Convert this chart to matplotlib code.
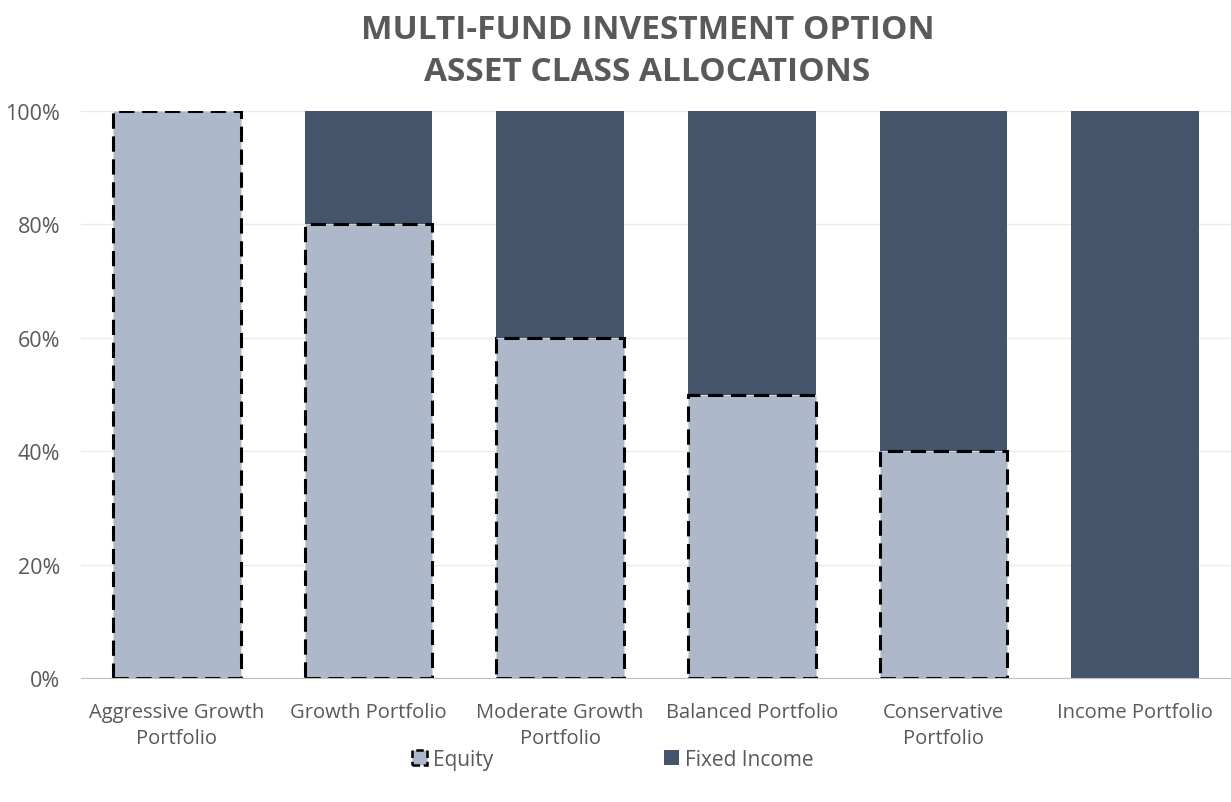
import numpy as np
import matplotlib
matplotlib.use("Agg")
import matplotlib.pyplot as plt
from matplotlib.ticker import PercentFormatter
from matplotlib.patches import Patch

categories = ["Aggressive Growth\nPortfolio", "Growth Portfolio", "Moderate Growth\nPortfolio",
              "Balanced Portfolio", "Conservative\nPortfolio", "Income Portfolio"]
equity = [100, 80, 60, 50, 40, 0]
fixed_income = [0, 20, 40, 50, 60, 100]

EQ_COLOR = "#ADB9CA"
FI_COLOR = "#44546A"
DASH = (0, (5, 2.5))

plt.rcParams["font.family"] = ["Open Sans", "DejaVu Sans"]

fig = plt.figure(figsize=(12.31, 8.03), dpi=100)
ax = fig.add_axes([0.0658, 0.1544, 0.9342, 0.7061])

x = np.arange(len(categories))
w = 0.667
for i in range(len(x)):
    if equity[i] > 0:
        ax.bar(x[i], equity[i], w, color=EQ_COLOR, edgecolor="black",
               linestyle=DASH, linewidth=2.2, zorder=3)
ax.bar(x, fixed_income, w, bottom=equity, color=FI_COLOR, zorder=2)

ax.set_xlim(-0.5, len(x) - 0.5)
ax.set_ylim(0, 100)
ax.set_yticks(np.arange(0, 101, 20))
ax.yaxis.set_major_formatter(PercentFormatter(decimals=0))
ax.set_xticks(x)
ax.set_xticklabels(categories, fontsize=14.5, color="#595959", linespacing=1.42)
ax.tick_params(axis="y", labelsize=15.5, labelcolor="#595959", length=0, pad=15)
ax.tick_params(axis="x", length=0, pad=17)
ax.grid(axis="y", color="#EBEBEB", linewidth=1, zorder=0)
for s in ["top", "right", "left"]:
    ax.spines[s].set_visible(False)
ax.spines["bottom"].set_color("#BFBFBF")
ax.spines["bottom"].set_zorder(4)

fig.text(0.526, 0.982, "MULTI-FUND INVESTMENT OPTION\nASSET CLASS ALLOCATIONS",
         ha="center", va="top", fontsize=24, fontweight="bold", color="#595959",
         linespacing=1.35)

handles = [Patch(facecolor=EQ_COLOR, edgecolor="black", linestyle=(0, (3, 1.5)), linewidth=1.8),
           Patch(facecolor=FI_COLOR)]
fig.legend(handles, ["Equity", "Fixed Income"], loc="center", bbox_to_anchor=(0.498, 0.053),
           ncol=2, frameon=False, fontsize=15, handlelength=0.7, handleheight=0.7,
           handletextpad=0.3, columnspacing=8.2, labelcolor="#595959")

fig.savefig("out.png", dpi=100)
